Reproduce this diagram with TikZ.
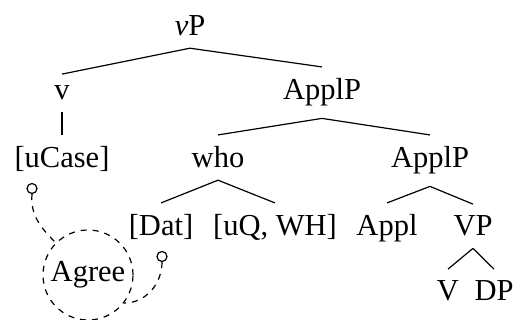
\documentclass[tikz,border=0pt]{standalone}
\usepackage{fontspec}
\setmainfont{Liberation Serif}

\begin{document}
\begin{tikzpicture}[
    x=0.5pt, y=-0.5pt,
    every node/.style={font=\fontsize{15.25}{18}\selectfont},
    cat/.style={anchor=base, inner xsep=1pt, inner ysep=5.75pt},
    branch/.style={line width=0.6pt},
    probe/.style={draw, circle, line width=0.6pt, minimum size=5pt, inner sep=0pt},
    agreeline/.style={dashed, line width=0.6pt},
]
\useasboundingbox (0,0) rectangle (516,320);
% the tree, level by level
\node[cat] (vP)      at (190,36)  {\textit{v}P};
\node[cat] (v)       at (62,100)  {v};
\node[cat] (ApplP)   at (322,100) {ApplP};
\node[cat] (uCase)   at (62,168)  {[uCase]};
\node[cat] (who)     at (218,168) {who};
\node[cat] (ApplPlo) at (430,168) {ApplP};
\node[cat] (Dat)     at (161,236) {[Dat]};
\node[cat] (uQ)      at (275,236) {[uQ, WH]};
\node[cat] (Appl)    at (387,236) {Appl};
\node[cat] (VP)      at (473,236) {VP};
\node[cat] (V)       at (448,301) {V};
\node[cat] (DP)      at (494,301) {DP};
% branches
\draw[branch] (vP.south) -- (v.north);
\draw[branch] (vP.south) -- (ApplP.north);
\draw[branch] (v.south) -- (uCase.north);
\draw[branch] (ApplP.south) -- (who.north);
\draw[branch] (ApplP.south) -- (ApplPlo.north);
\draw[branch] (who.south) -- (Dat.north);
\draw[branch] (who.south) -- (uQ.north);
\draw[branch] (ApplPlo.south) -- (Appl.north);
\draw[branch] (ApplPlo.south) -- (VP.north);
\draw[branch] (VP.south) -- (V.north);
\draw[branch] (VP.south) -- (DP.north);
% the Agree relation
\node[draw, dashed, circle, minimum size=45pt, inner sep=0pt, line width=0.6pt]
      (agree) at (88,275) {Agree};
\node[probe] (caseprobe) at (32,188.5) {};
\node[probe] (datprobe)  at (162,256.5) {};
\draw[agreeline] (caseprobe.south) to[out=-95, in=135] (agree.135);
\draw[agreeline] (datprobe.south) to[out=-90, in=0] (agree.-38);
\end{tikzpicture}
\end{document}
